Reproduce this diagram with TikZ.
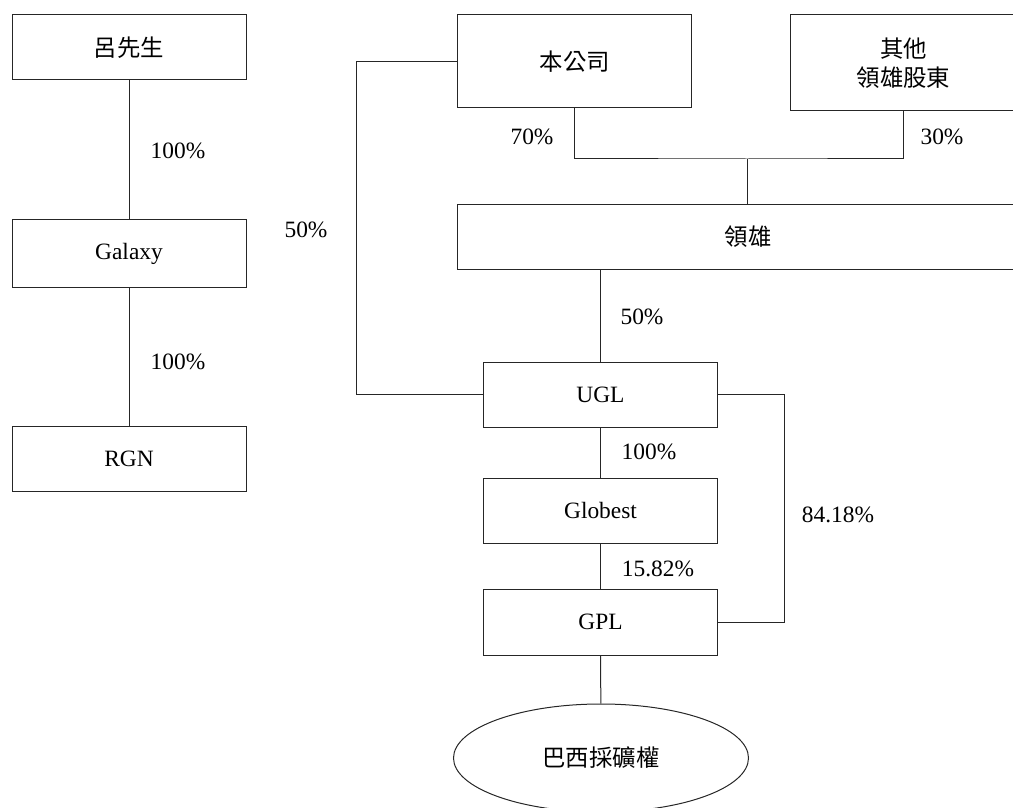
\documentclass[tikz,border=0pt]{standalone}
\usepackage{fontspec}
\setmainfont{Liberation Serif}
\newfontfamily\cjk{Noto Sans CJK TC}
\usetikzlibrary{shapes.geometric}

\begin{document}
\begin{tikzpicture}[x=0.5pt, y=-0.5pt,
    every node/.style={font=\fontsize{11.7}{14.5}\selectfont, inner sep=0pt},
    box/.style={draw=black!85, line width=0.5pt, minimum width=117pt, minimum height=32.5pt},
    link/.style={draw=black!85, line width=0.5pt}]
    \path[use as bounding box, clip] (0,0) rectangle (1013,808);

    \node[box] (lu) at (129,47.5) {\cjk 呂先生};
    \node[box, minimum height=33.5pt] (galaxy) at (129,253.5) {Galaxy};
    \node[box] (rgn) at (129,459) {RGN};

    \node[box, minimum height=46.5pt] (company) at (574.75,61.5) {\cjk 本公司};
    \node[box, minimum width=113.5pt, minimum height=48pt, align=center] (others) at (903.5,63) {\cjk 其他\\\cjk 領雄股東};
    \node[box, minimum width=290.5pt] (lingxiong) at (748,237) {\cjk 領雄};

    \node[box] (ugl) at (600.5,394.5) {UGL};
    \node[box] (globest) at (600.5,510.5) {Globest};
    \node[box, minimum height=33pt] (gpl) at (600.5,622) {GPL};
    \node[draw=black!85, line width=0.5pt, ellipse, minimum width=147.5pt, minimum height=54pt] (mine) at (601,758) {\cjk 巴西採礦權};

    \draw[link] (lu) -- (galaxy);
    \draw[link] (galaxy) -- (rgn);
    \coordinate (join) at (747,159);
    \draw[link] (company.south) |- (join) -| (others.south);
    \draw[link] (join) -- (join |- lingxiong.north);
    \draw[link] (ugl.north |- lingxiong.south) -- (ugl.north);
    \draw[link] (ugl.west) -- ++(-127,0) |- (company.west);
    \draw[link] (ugl.east) -- ++(66,0) |- (gpl.east);
    \draw[link] (ugl) -- (globest);
    \draw[link] (globest) -- (gpl);
    \draw[link] (gpl) -- (mine);

    \node (p1) at (178,151) {100\%};
    \node (p2) at (178,362) {100\%};
    \node (p3) at (306,230) {50\%};
    \node (p4) at (532,137) {70\%};
    \node (p5) at (942,137) {30\%};
    \node (p6) at (642,317) {50\%};
    \node (p7) at (649,452) {100\%};
    \node (p8) at (658,569) {15.82\%};
    \node (p9) at (838,515) {84.18\%};
\end{tikzpicture}
\end{document}
